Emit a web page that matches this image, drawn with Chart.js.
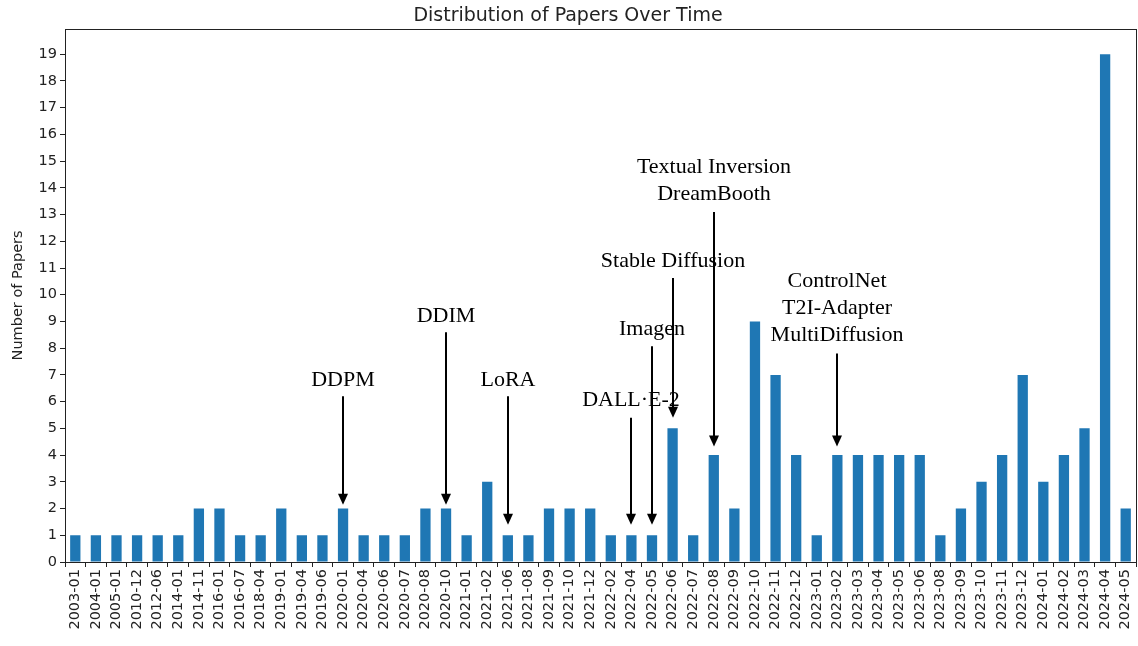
<!DOCTYPE html>
<html>
<head>
<meta charset="utf-8">
<script src="https://cdn.jsdelivr.net/npm/chart.js@4.4.1/dist/chart.umd.min.js"></script>
<style>
    html, body { margin: 0; padding: 0; background: #fff; }
    #wrap { width: 1138px; height: 646px; }
</style>
</head>
<body>
<div id="wrap"><canvas id="papers"></canvas></div>
<script>
const months = ['2003-01', '2004-01', '2005-01', '2010-12', '2012-06', '2014-01', '2014-11', '2016-01', '2016-07', '2018-04',
    '2019-01', '2019-04', '2019-06', '2020-01', '2020-04', '2020-06', '2020-07', '2020-08', '2020-10', '2021-01',
    '2021-02', '2021-06', '2021-08', '2021-09', '2021-10', '2021-12', '2022-02', '2022-04', '2022-05', '2022-06',
    '2022-07', '2022-08', '2022-09', '2022-10', '2022-11', '2022-12', '2023-01', '2023-02', '2023-03', '2023-04',
    '2023-05', '2023-06', '2023-08', '2023-09', '2023-10', '2023-11', '2023-12', '2024-01', '2024-02', '2024-03',
    '2024-04', '2024-05'];

const paperCounts = [1, 1, 1, 1, 1, 1, 2, 2, 1, 1,
    2, 1, 1, 2, 1, 1, 1, 2, 2, 1,
    3, 1, 1, 2, 2, 2, 1, 1, 1, 5,
    1, 4, 2, 9, 7, 4, 1, 4, 4, 4,
    4, 4, 1, 2, 3, 4, 7, 3, 4, 5,
    19, 2];

const yTicks = [0, 1, 2, 3, 4, 5, 6, 7, 8, 9, 10, 11, 12, 13, 14, 15, 16, 17, 18, 19];

// milestone notes: month, label lines, y of last label line, arrow start y, arrow tip y (data units)
const noteMonths = ['2020-01', '2020-10', '2021-06', '2022-04', '2022-05', '2022-06', '2022-08', '2023-02'];
const noteLabels = [['DDPM'], ['DDIM'], ['LoRA'], ['DALL·E-2'], ['Imagen'], ['Stable Diffusion'],
    ['Textual Inversion', 'DreamBooth'], ['ControlNet', 'T2I-Adapter', 'MultiDiffusion']];
const noteTextY = [6.8, 9.2, 6.8, 6.05, 8.7, 11.25, 13.75, 8.5];
const noteFromY = [6.2, 8.6, 6.2, 5.4, 8.07, 10.63, 13.1, 7.8];
const noteToY = [2.14, 2.14, 1.39, 1.39, 1.39, 5.4, 4.32, 4.32];

const framePlugin = {
    id: 'frame',
    afterDatasetsDraw(chart) {
        const { ctx, chartArea: a } = chart;
        ctx.save();
        ctx.strokeStyle = '#222';
        ctx.lineWidth = 1;
        ctx.strokeRect(Math.round(a.left) + 0.5, Math.round(a.top) + 0.5,
            Math.round(a.right - a.left), Math.round(a.bottom - a.top));
        ctx.restore();
    }
};

const notesPlugin = {
    id: 'notes',
    afterDraw(chart) {
        const { ctx } = chart;
        const xs = chart.scales.x, ys = chart.scales.y;
        ctx.save();
        ctx.fillStyle = '#000';
        ctx.strokeStyle = '#000';
        ctx.font = '22px "Liberation Serif", serif';
        ctx.textAlign = 'center';
        ctx.textBaseline = 'middle';
        noteMonths.forEach((m, i) => {
            const x = Math.round(xs.getPixelForValue(months.indexOf(m)));
            const lines = noteLabels[i];
            const ty = ys.getPixelForValue(noteTextY[i]);
            lines.forEach((t, k) => {
                ctx.fillText(t, x, ty - (lines.length - 1 - k) * 26.8);
            });
            const y0 = ys.getPixelForValue(noteFromY[i]);
            const y1 = ys.getPixelForValue(noteToY[i]);
            ctx.lineWidth = 2;
            ctx.beginPath();
            ctx.moveTo(x, y0);
            ctx.lineTo(x, y1 - 9);
            ctx.stroke();
            ctx.beginPath();
            ctx.moveTo(x - 5, y1 - 11);
            ctx.lineTo(x + 5, y1 - 11);
            ctx.lineTo(x, y1);
            ctx.closePath();
            ctx.fill();
        });
        ctx.restore();
    }
};

const tickFont = { family: '"DejaVu Sans", sans-serif', size: 14.5 };

new Chart(document.getElementById('papers'), {
    type: 'bar',
    data: {
        labels: months,
        datasets: [{
            label: 'Papers',
            data: paperCounts,
            backgroundColor: '#1f77b4',
            categoryPercentage: 1.0,
            barPercentage: 0.5
        }]
    },
    options: {
        responsive: true,
        maintainAspectRatio: false,
        animation: false,
        layout: { padding: { top: 0, right: 2, left: 0, bottom: 0 } },
        plugins: {
            legend: { display: false },
            tooltip: { enabled: false },
            title: {
                display: true,
                text: 'Distribution of Papers Over Time',
                color: '#222',
                font: { family: '"DejaVu Sans", sans-serif', size: 19, weight: 'normal', lineHeight: 1.2 },
                padding: { top: 5, bottom: 1 }
            }
        },
        scales: {
            x: {
                grid: { display: true, drawOnChartArea: false, tickLength: 5, color: '#222' },
                border: { display: false },
                ticks: {
                    color: '#222',
                    font: tickFont,
                    maxRotation: 90,
                    minRotation: 90,
                    autoSkip: false,
                    padding: 2
                },
                afterFit(scale) {
                    scale.height = 84;
                    scale.paddingLeft = 0;
                    scale.paddingRight = 0;
                }
            },
            y: {
                min: 0,
                max: 19.95,
                grid: { display: true, drawOnChartArea: false, tickLength: 5, color: '#222' },
                border: { display: false },
                afterBuildTicks(scale) { scale.ticks = yTicks.map(v => ({ value: v })); },
                ticks: {
                    color: '#222',
                    font: tickFont,
                    padding: 3
                },
                title: {
                    display: true,
                    text: 'Number of Papers',
                    color: '#222',
                    font: tickFont,
                    padding: { top: 10, bottom: 0 }
                },
                afterFit(scale) { scale.width = 65; }
            }
        }
    },
    plugins: [framePlugin, notesPlugin]
});
</script>
</body>
</html>
